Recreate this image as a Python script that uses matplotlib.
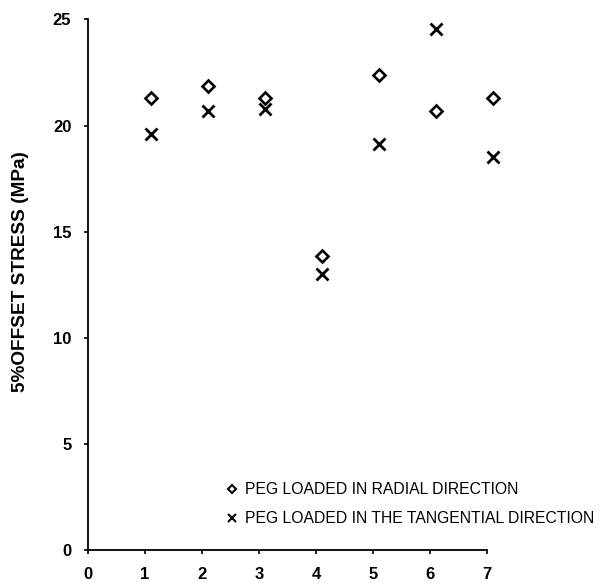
import matplotlib
matplotlib.use("Agg")
import matplotlib.pyplot as plt

plt.rcParams['font.family'] = ['Liberation Sans', 'DejaVu Sans']

# peg positions and 5% offset stress (MPa)
x_radial = [1.1, 2.1, 3.1, 4.1, 5.1, 6.1, 7.1]
stress_radial = [21.3, 21.85, 21.3, 13.85, 22.4, 20.7, 21.3]

x_tangential = [1.1, 2.1, 3.1, 4.1, 5.1, 6.1, 7.1]
stress_tangential = [19.6, 20.7, 20.8, 13.0, 19.15, 24.55, 18.5]

x_ticks = [0, 1, 2, 3, 4, 5, 6, 7]
y_ticks = [0, 5, 10, 15, 20, 25]

fig = plt.figure(figsize=(6.09, 5.83), dpi=100)
ax = fig.add_axes([0.1445, 0.0566, 0.849, 0.910])

ax.plot(x_radial, stress_radial, linestyle='none', marker='D', markersize=5.8,
        markerfacecolor='none', markeredgecolor='black', markeredgewidth=1.9,
        label='PEG LOADED IN RADIAL DIRECTION')
ax.plot(x_tangential, stress_tangential, linestyle='none', marker='x', markersize=8,
        color='black', markeredgewidth=2.0,
        label='PEG LOADED IN THE TANGENTIAL DIRECTION')

ax.set_xlim(0, 9.07)
ax.set_ylim(0, 25)
ax.set_xticks(x_ticks)
ax.set_yticks(y_ticks)

ax.spines[['top', 'right']].set_visible(False)
ax.spines['bottom'].set_bounds(0, 7)
ax.spines['left'].set_bounds(0, 25)
for s in ('left', 'bottom'):
    ax.spines[s].set_linewidth(1.3)

ax.tick_params(direction='out', length=3, width=1.2, pad=9, labelsize=12)
for lab in ax.get_xticklabels() + ax.get_yticklabels():
    lab.set_fontweight('bold')

ax.set_ylabel('5%OFFSET STRESS (MPa)', fontsize=13.7, fontweight='bold')
ax.yaxis.set_label_coords(-0.115, 0.525)

leg = ax.legend(loc='lower left', bbox_to_anchor=(0.27, 0.045), frameon=False,
                fontsize=11.3, handlelength=0.6, handletextpad=0.5, labelspacing=0.9,
                borderpad=0, borderaxespad=0, markerscale=0.75)
for h in leg.legend_handles:
    h.set_markeredgewidth(1.5)

fig.savefig('out.png', dpi=100, facecolor='white')
